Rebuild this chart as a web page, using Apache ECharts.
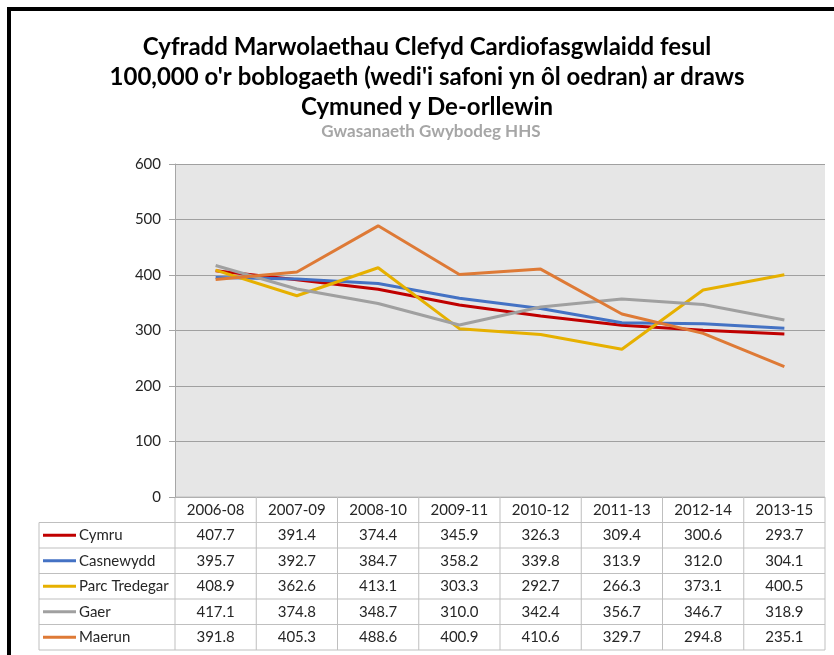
<!DOCTYPE html>
<html>
<head>
<meta charset="utf-8">
<script src="https://cdn.jsdelivr.net/npm/echarts@6/dist/echarts.min.js"></script>
<style>
  html, body { margin: 0; padding: 0; background: #fff; }
  #chart { width: 834px; height: 655px; }
</style>
</head>
<body>
<div id="chart"></div>
<script>
const categories = ['2006-08', '2007-09', '2008-10', '2009-11', '2010-12', '2011-13', '2012-14', '2013-15'];
const seriesNames = ['Cymru', 'Casnewydd', 'Parc Tredegar', 'Gaer', 'Maerun'];
const seriesColors = ['#c00000', '#4472c4', '#e6b000', '#a0a0a0', '#de7a36'];

const cymru = [407.7, 391.4, 374.4, 345.9, 326.3, 309.4, 300.6, 293.7];
const casnewydd = [395.7, 392.7, 384.7, 358.2, 339.8, 313.9, 312.0, 304.1];
const parcTredegar = [408.9, 362.6, 413.1, 303.3, 292.7, 266.3, 373.1, 400.5];
const gaer = [417.1, 374.8, 348.7, 310.0, 342.4, 356.7, 346.7, 318.9];
const maerun = [391.8, 405.3, 488.6, 400.9, 410.6, 329.7, 294.8, 235.1];
const seriesValues = [cymru, casnewydd, parcTredegar, gaer, maerun];

const yTicks = [0, 100, 200, 300, 400, 500, 600];

const FONT = 'Lato';
const TEXT = '#262626';
const chart = echarts.init(document.getElementById('chart'));

const option = {
  backgroundColor: '#fff',
  animation: false,
  title: [
    {
      text: 'Cyfradd Marwolaethau Clefyd Cardiofasgwlaidd fesul\n100,000 o\'r boblogaeth (wedi\'i safoni yn ôl oedran) ar draws\nCymuned y De-orllewin',
      left: 422, top: 27, textAlign: 'center',
      textStyle: { fontFamily: FONT, fontSize: 24, fontWeight: 'bold', color: '#000', lineHeight: 30 }
    },
    {
      text: 'Gwasanaeth Gwybodeg HHS',
      left: 426, top: 118, textAlign: 'center',
      textStyle: { fontFamily: FONT, fontSize: 17, fontWeight: 'bold', color: '#a6a6a6' }
    }
  ],
  grid: {
    left: 175, right: 9, top: 164, bottom: 158,
    show: true, backgroundColor: '#e6e6e6', borderWidth: 0
  },
  xAxis: {
    type: 'category',
    data: categories,
    boundaryGap: true,
    axisLine: { show: false },
    axisTick: { show: false },
    axisLabel: { show: false },
    splitLine: { show: false }
  },
  yAxis: {
    type: 'value',
    min: yTicks[0], max: yTicks[yTicks.length - 1], interval: 100,
    axisLine: { show: true, lineStyle: { color: '#a6a6a6', width: 1 } },
    axisTick: { show: true, length: 6, lineStyle: { color: '#a6a6a6' } },
    axisLabel: { fontFamily: FONT, fontSize: 15, color: TEXT, margin: 14 },
    splitLine: { show: true, lineStyle: { color: '#a0a0a0', width: 1 } }
  },
  series: seriesNames.map((name, i) => ({
    name: name,
    type: 'line',
    data: seriesValues[i],
    symbol: 'none',
    lineStyle: { color: seriesColors[i], width: 3 },
    itemStyle: { color: seriesColors[i] }
  })),
  graphic: [
    {
      type: 'rect',
      shape: { x: 9, y: 9, width: 900, height: 800 },
      style: { fill: 'none', stroke: '#000', lineWidth: 4 },
      silent: true, z: 100
    }
  ]
};
chart.setOption(option);

// data table under the plot, columns taken from the category axis
const grid = chart.getModel().getComponent('grid').coordinateSystem.getRect();
const colW = grid.width / categories.length;
const tableTop = grid.y + grid.height;
const rowH = 25.5;
const firstColLeft = 39;
const lineColor = '#bfbfbf';
const cells = [];

// header row
cells.push({ type: 'line', shape: { x1: grid.x, y1: tableTop, x2: grid.x + grid.width, y2: tableTop }, style: { stroke: lineColor, lineWidth: 1 } });
categories.forEach((c, i) => {
  const cx = chart.convertToPixel({ xAxisIndex: 0 }, c);
  cells.push({ type: 'text', x: cx, y: tableTop + rowH / 2, style: { text: c, fontFamily: FONT, fontSize: 15, fill: TEXT, align: 'center', verticalAlign: 'middle' } });
});
// row lines
for (let r = 0; r <= seriesNames.length; r++) {
  const y = tableTop + rowH * (r + 1);
  cells.push({ type: 'line', shape: { x1: firstColLeft, y1: y, x2: grid.x + grid.width, y2: y }, style: { stroke: lineColor, lineWidth: 1 } });
}
// vertical lines
for (let i = 0; i <= categories.length; i++) {
  const x = grid.x + colW * i;
  cells.push({ type: 'line', shape: { x1: x, y1: tableTop, x2: x, y2: tableTop + rowH * (seriesNames.length + 1) }, style: { stroke: lineColor, lineWidth: 1 } });
}
cells.push({ type: 'line', shape: { x1: firstColLeft, y1: tableTop + rowH, x2: firstColLeft, y2: tableTop + rowH * (seriesNames.length + 1) }, style: { stroke: lineColor, lineWidth: 1 } });
// series rows
seriesNames.forEach((name, r) => {
  const cy = tableTop + rowH * (r + 1.5);
  cells.push({ type: 'line', shape: { x1: 43, y1: cy, x2: 76, y2: cy }, style: { stroke: seriesColors[r], lineWidth: 3 } });
  cells.push({ type: 'text', x: 79, y: cy, style: { text: name, fontFamily: FONT, fontSize: 15, fill: TEXT, align: 'left', verticalAlign: 'middle' } });
  seriesValues[r].forEach((v, i) => {
    const cx = chart.convertToPixel({ xAxisIndex: 0 }, categories[i]);
    cells.push({ type: 'text', x: cx, y: cy, style: { text: v.toFixed(1), fontFamily: FONT, fontSize: 15, fill: TEXT, align: 'center', verticalAlign: 'middle' } });
  });
});

chart.setOption({ graphic: option.graphic.concat(cells.map(c => Object.assign({ silent: true }, c))) }, { replaceMerge: ['graphic'] });
</script>
</body>
</html>
